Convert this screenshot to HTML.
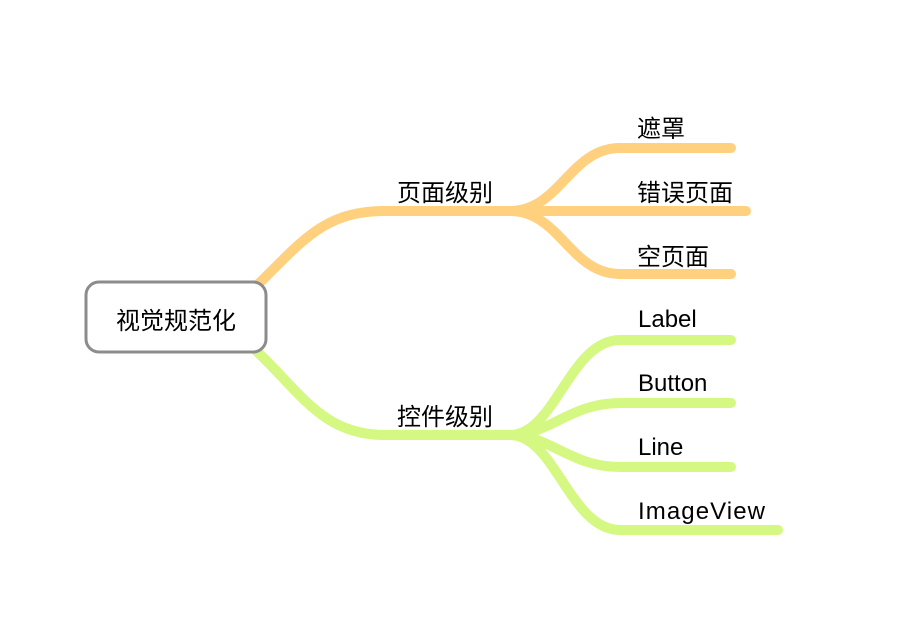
<!DOCTYPE html>
<html><head><meta charset="utf-8"><style>
html,body{margin:0;padding:0;background:#fff;}
svg{display:block;}
text{font-family:"Liberation Sans","Noto Sans CJK SC",sans-serif;fill:#000;}
</style></head><body>
<svg width="916" height="624" viewBox="0 0 916 624" xmlns="http://www.w3.org/2000/svg">
<g fill="none" stroke-linecap="round" stroke-width="10">
<g stroke="#ffd17f">
<path d="M250 292 C300 245 320 211 385 211 L512 211"/>
<path d="M510 211 C560 211 570 148 620 148 L731 148"/>
<path d="M510 211 L746 211"/>
<path d="M510 211 C560 211 570 274 620 274 L731 274"/>
</g>
<g stroke="#d5f882">
<path d="M250 345 C300 390 320 435 385 435 L512 435"/>
<path d="M510 435 C555 435 570 340 620 340 L731 340"/>
<path d="M510 435 C550 435 570 403 620 403 L731 403"/>
<path d="M510 435 C550 435 570 467 620 467 L731 467"/>
<path d="M510 435 C555 435 570 530 620 530 L778 530"/>
</g>
</g>
<rect x="86" y="282" width="180" height="70" rx="13" ry="13" fill="#fff" stroke="#8c8c8c" stroke-width="3"/>
<text x="176" y="329" font-size="24" text-anchor="middle">视觉规范化</text>
<text x="397" y="201" font-size="24">页面级别</text>
<text x="397" y="425" font-size="24">控件级别</text>
<text x="637" y="137" font-size="24">遮罩</text>
<text x="637" y="201" font-size="24">错误页面</text>
<text x="637" y="265" font-size="24">空页面</text>
<text x="638" y="327" font-size="24">Label</text>
<text x="638" y="391" font-size="24">Button</text>
<text x="638" y="455" font-size="24">Line</text>
<text x="638" y="519" font-size="24" textLength="127">ImageView</text>
</svg>
</body></html>
